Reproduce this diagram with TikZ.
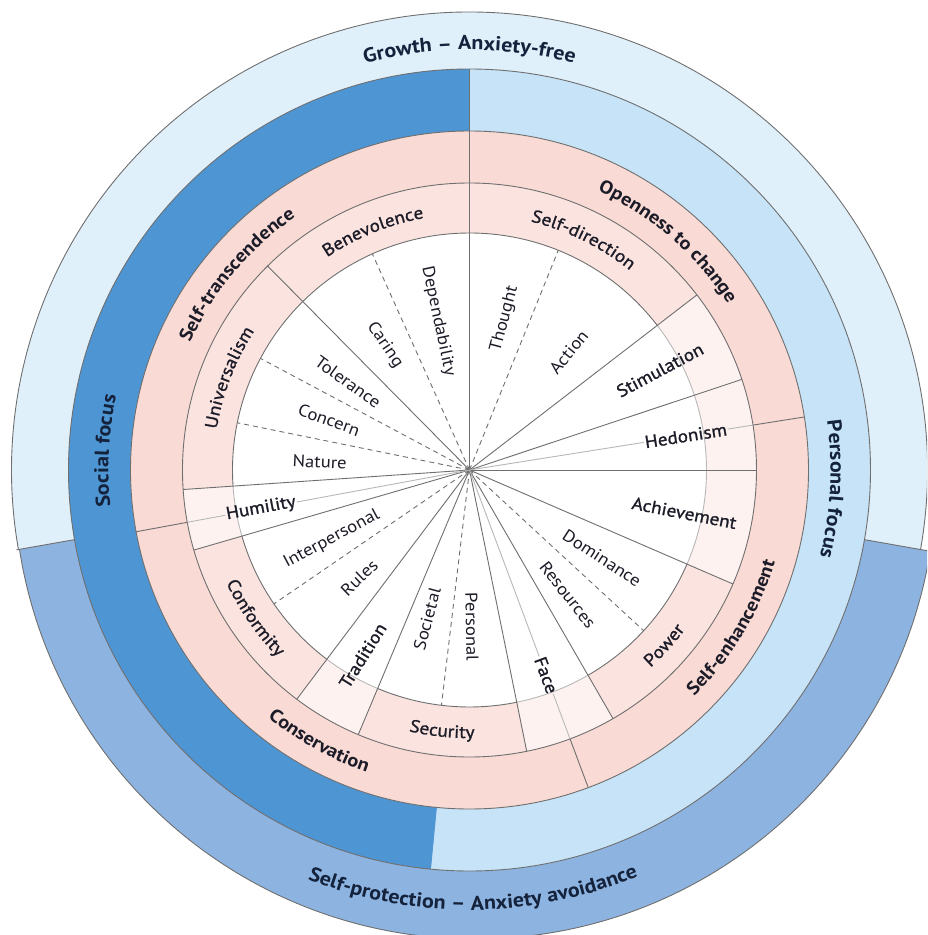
\documentclass[tikz,border=0pt]{standalone}
\usepackage{fontspec}
\setmainfont[FakeStretch=1.1]{PT Sans}
\newfontfamily\semifont[FakeStretch=1.1,FakeBold=1.2]{PT Sans}
\usetikzlibrary{decorations.text}

\definecolor{pale}{HTML}{E0F0FB}
\definecolor{midblue}{HTML}{8DB4E1}
\definecolor{deepblue}{HTML}{4E95D4}
\definecolor{skyblue}{HTML}{C6E3F7}
\definecolor{rosering}{HTML}{F9DAD5}
\definecolor{valring}{HTML}{FBE4E0}
\definecolor{valpale}{HTML}{FDF2F0}
\definecolor{rule}{HTML}{6F6F6F}
\definecolor{rulefaint}{HTML}{B8B8B8}
\definecolor{ink}{HTML}{1C1C28}
\definecolor{navy}{HTML}{14223C}

% curved labels: centre angle, baseline radius, font, colour, text
\newcommand\cwtext[5]{%
  \path[decorate,decoration={text along path,text align=center,text color=#4,
      text={|#3|#5}}]
    ({#1+70}:#2) arc[start angle={#1+70},end angle={#1-70},radius=#2];}
\newcommand\ccwtext[5]{%
  \path[decorate,decoration={text along path,text align=center,text color=#4,
      text={|#3|#5}}]
    ({#1-70}:#2) arc[start angle={#1-70},end angle={#1+70},radius=#2];}

\newcommand\outerfont{\fontsize{20}{20}\selectfont\bfseries}
\newcommand\focusfont{\fontsize{20}{20}\selectfont\bfseries}
\newcommand\higherfont{\fontsize{18.5}{18.5}\selectfont\bfseries}
\newcommand\valuefont{\fontsize{17.5}{17.5}\selectfont\semifont}

\tikzset{
  line/.style={draw=rule,line width=0.9pt},
  faintline/.style={draw=rulefaint,line width=0.9pt},
  dashline/.style={draw=rule,line width=0.9pt,dash pattern=on 5pt off 4pt},
  subval/.style={font=\fontsize{17}{17}\selectfont,text=ink,inner sep=1pt},
  oneval/.style={font=\valuefont,text=ink,inner sep=1pt},
}

\begin{document}
\begin{tikzpicture}[x=1pt,y=1pt]
\useasboundingbox (-469.5,-465) rectangle (457.5,470);
\clip (-469.5,-465) rectangle (457.5,470);
\coordinate (O) at (0,0);

% outer band: growth (top) and self-protection (bottom)
\fill[pale] (O) circle (458);
\begin{scope}
  \clip (O) -- (190:700) arc[start angle=190,end angle=350,radius=700] -- cycle;
  \fill[white] (O) circle (700);
  \fill[midblue] (5.5,-8) circle (461);
  \draw[line] (5.5,-8) circle (461);
\end{scope}
\draw[line] (350:458) arc[start angle=-10,end angle=190,radius=458];
\coordinate (sl1) at (190:401); \coordinate (sl2) at (190:460);
\coordinate (sr1) at (350:401); \coordinate (sr2) at (350:470);
\draw[line] (sl1) -- (sl2);
\draw[line] (sr1) -- (sr2);

% focus ring
\fill[deepblue] (O) -- (90:401) arc[start angle=90,end angle=264.5,radius=401] -- cycle;
\fill[skyblue] (O) -- (264.5:401) arc[start angle=264.5,end angle=450,radius=401] -- cycle;
\draw[line] (O) circle (401);

% higher-order ring
\fill[rosering] (O) circle (339);
\draw[line] (O) circle (339);

% value ring: sectors with sub-values, then single values
\foreach \a/\b in {37.6/90, 90/134.7, 134.7/183.9, 196.2/233, 247.2/281.5, 300/336.6}
  \fill[valring] (O) -- (\a:287) arc[start angle=\a,end angle=\b,radius=287] -- cycle;
\foreach \a/\b in {18.4/37.6, 0/18.4, 336.6/360, 183.9/196.2, 233/247.2, 281.5/300}
  \fill[valpale] (O) -- (\a:287) arc[start angle=\a,end angle=\b,radius=287] -- cycle;
\draw[line] (O) circle (287);

% inner disc of sub-values
\fill[white] (O) circle (237);
\foreach \a/\b in {37.6/90, 90/134.7, 134.7/183.9, 196.2/233, 247.2/281.5, 300/336.6}
  \draw[line] (\a:237) arc[start angle=\a,end angle=\b,radius=237];
\foreach \a/\b in {18.4/37.6, 0/18.4, 336.6/360, 183.9/196.2, 233/247.2, 281.5/300}
  \draw[faintline] (\a:237) arc[start angle=\a,end angle=\b,radius=237];

% value boundaries
\foreach \a [count=\i] in {37.6, 18.4, 0, 336.6, 300, 281.5, 247.2, 233, 196.2, 183.9, 134.7} {
  \coordinate (v\i) at (\a:287);
  \draw[line] (O) -- (v\i);
}
\coordinate (top) at (90:401);
\draw[line] (O) -- (top);

% higher-order boundaries in the rose ring
\foreach \a [count=\i] in {9, 190.5, 290.5} {
  \coordinate (h\i a) at (\a:287);
  \coordinate (h\i b) at (\a:339);
  \draw[line] (h\i a) -- (h\i b);
}

% sub-value boundaries
\foreach \a [count=\i] in {68, 114.2, 151.9, 168.5, 214.4, 263.2, 317.3} {
  \coordinate (d\i) at (\a:237);
  \draw[dashline] (O) -- (d\i);
}

% sub-values
\node[subval,rotate=75]  (thought)  at (76.9:155) {Thought};
\node[subval,rotate=51]  (action)   at (49.9:154) {Action};
\node[subval,rotate=-78] (depend)   at (101.9:152) {Dependability};
\node[subval,rotate=-56] (caring)   at (124.1:151) {Caring};
\node[subval,rotate=-36] (toler)    at (144.1:150) {Tolerance};
\node[subval,rotate=-20] (concern)  at (160.4:149) {Concern};
\node[subval,rotate=-3]  (nature)   at (176.9:150) {Nature};
\node[subval,rotate=28]  (interp)   at (206.6:154) {Interpersonal};
\node[subval,rotate=44]  (rules)    at (224.3:154) {Rules};
\node[subval,rotate=75]  (societal) at (254.1:155) {Societal};
\node[subval,rotate=-89] (personal) at (270.9:157) {Personal};
\node[subval,rotate=-52] (resources) at (308.2:159) {Resources};
\node[subval,rotate=-33] (dominance) at (326.4:159) {Dominance};

% single values
\node[oneval,rotate=28]  (stim) at (27.7:215) {Stimulation};
\node[oneval,rotate=9]   (hed)  at (9:219) {Hedonism};
\node[oneval,rotate=-11] (ach)  at (348.7:219) {Achievement};
\node[oneval,rotate=-69.5] (face) at (290.5:219) {Face};
\node[oneval,rotate=58]  (trad) at (240.1:214) {Tradition};
\node[oneval,rotate=10.5] (hum) at (190.5:212) {Humility};

% faint lines running through the single values that straddle two higher-order types
\draw[faintline] (O) -- (hed.west);
\draw[faintline] (hed.east) -- (h1a);
\draw[faintline] (O) -- (hum.east);
\draw[faintline] (hum.west) -- (h2a);
\draw[faintline] (O) -- (face.west);
\draw[faintline] (face.east) -- (h3a);

% values on arcs
\cwtext{112}{256}{\valuefont}{ink}{Benevolence}
\cwtext{63.7}{256}{\valuefont}{ink}{Self-direction}
\cwtext{159}{256}{\valuefont}{ink}{Universalism}
\ccwtext{214.6}{268}{\valuefont}{ink}{Conformity}
\ccwtext{264}{268}{\valuefont}{ink}{Security}
\ccwtext{318}{268}{\valuefont}{ink}{Power}

% higher-order types
\cwtext{140}{307}{\higherfont}{ink}{Self-transcendence}
\cwtext{49}{307}{\higherfont}{ink}{Openness to change}
\ccwtext{329}{319}{\higherfont}{ink}{Self-enhancement}
\ccwtext{241}{319}{\higherfont}{ink}{Conservation}

% focus and anxiety bands
\cwtext{177}{361}{\focusfont}{navy}{Social focus}
\cwtext{-3}{361}{\focusfont}{navy}{Personal focus}
\cwtext{90}{420}{\outerfont}{navy}{Growth – Anxiety-free}
\ccwtext{270.5}{440}{\outerfont}{navy}{Self-protection – Anxiety avoidance}
\end{tikzpicture}
\end{document}
